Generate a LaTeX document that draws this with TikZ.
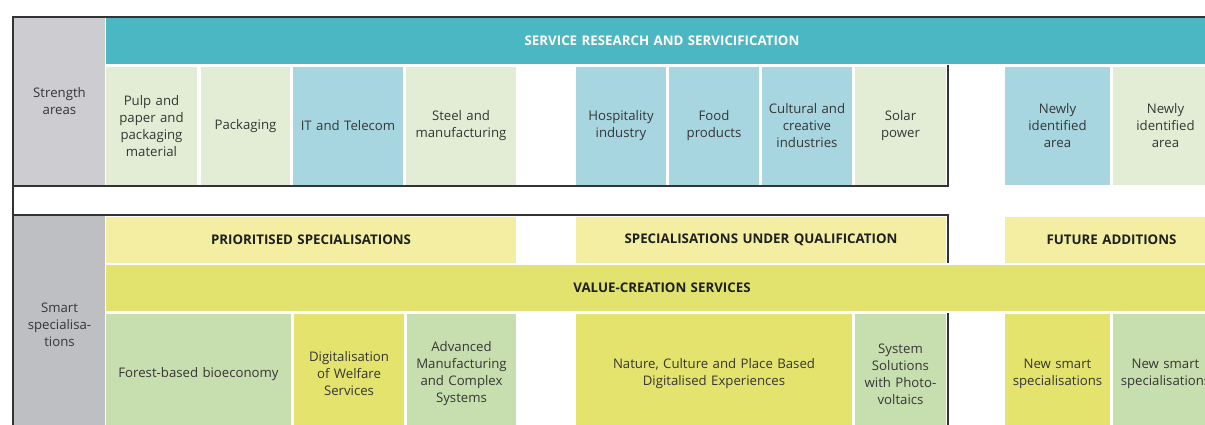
\documentclass[tikz,border=0pt]{standalone}
\usepackage{fontspec}
\setmainfont{Open Sans}
\definecolor{grayA}{HTML}{CDCDD1}
\definecolor{grayB}{HTML}{BEBFC3}
\definecolor{teal}{HTML}{4AB7C3}
\definecolor{lgreen}{HTML}{E3EDD5}
\definecolor{lblue}{HTML}{A7D6E0}
\definecolor{hyellow}{HTML}{F3EEA2}
\definecolor{vband}{HTML}{E2E36F}
\definecolor{bgreen}{HTML}{C7DFAE}
\definecolor{byellow}{HTML}{E3E36D}
\definecolor{txt}{HTML}{363636}
\definecolor{frame}{HTML}{333333}
\newcommand\cellnode[7]{%
  \pgfmathsetmacro\cw{#4-#2}\pgfmathsetmacro\ch{#5-#3}\pgfmathsetmacro\tw{#4-#2-6}%
  \node[cellbase,#6,minimum width=\cw pt,minimum height=\ch pt,text width=\tw pt] (#1) at ({(#2+#4)/2},{(#3+#5)/2}) {#7};}
\tikzset{
  cellbase/.style={rectangle,draw=none,inner sep=0pt,align=center,text=txt,
    font=\fontsize{13.2}{17}\selectfont},
  hdr/.style={font=\fontsize{13.3}{17}\selectfont\bfseries,text=black!88},
  framel/.style={draw=frame,line width=2pt}
}
\begin{document}
\begin{tikzpicture}[x=1pt,y=-1pt]
\useasboundingbox (0,0) rectangle (1205,424);
\clip (0,0) rectangle (1205,424);
\fill[white] (0,0) rectangle (1205,424);
% strength areas
\cellnode{g1}{14}{18}{105}{185}{fill=grayA}{Strength\\areas}
\cellnode{srs}{106}{18}{1218}{64}{fill=teal,hdr,text=white}{SERVICE RESEARCH AND SERVICIFICATION}
\cellnode{s1}{106}{67}{197}{185}{fill=lgreen}{Pulp and\\paper and\\packaging\\material}
\cellnode{s2}{201}{67}{290}{185}{fill=lgreen}{Packaging}
\cellnode{s3}{293}{67}{403}{185}{fill=lblue}{IT and Telecom}
\cellnode{s4}{406}{67}{516}{185}{fill=lgreen}{Steel and\\manufacturing}
\cellnode{s5}{576}{67}{666}{185}{fill=lblue}{Hospitality\\industry}
\cellnode{s6}{669}{67}{759}{185}{fill=lblue}{Food\\products}
\cellnode{s7}{762}{67}{852}{185}{fill=lblue}{Cultural and\\creative\\industries}
\cellnode{s8}{855}{67}{946}{185}{fill=lgreen}{Solar\\power}
\cellnode{s9}{1005}{67}{1110}{185}{fill=lblue}{Newly\\identified\\area}
\cellnode{s10}{1113}{67}{1218}{185}{fill=lgreen}{Newly\\identified\\area}
% smart specialisations
\cellnode{g2}{14}{216}{105}{434}{fill=grayB}{Smart\\specialisa-\\tions}
\cellnode{h1}{106}{217}{516}{263}{fill=hyellow,hdr}{PRIORITISED SPECIALISATIONS}
\cellnode{h2}{576}{217}{946}{263}{fill=hyellow,hdr}{SPECIALISATIONS UNDER QUALIFICATION}
\cellnode{h3}{1005}{217}{1218}{263}{fill=hyellow,hdr}{FUTURE ADDITIONS}
\cellnode{vc}{106}{265}{1218}{311}{fill=vband,hdr}{VALUE-CREATION SERVICES}
\cellnode{b1}{106}{314}{291}{434}{fill=bgreen}{Forest-based bioeconomy}
\cellnode{b2}{294}{314}{404}{434}{fill=byellow}{Digitalisation\\of Welfare\\Services}
\cellnode{b3}{407}{314}{516}{434}{fill=bgreen}{Advanced\\Manufacturing\\and Complex\\Systems}
\cellnode{b4}{576}{314}{852}{434}{fill=byellow}{Nature, Culture and Place Based\\Digitalised Experiences}
\cellnode{b5}{855}{314}{946}{434}{fill=bgreen}{System\\Solutions\\with Photo-\\voltaics}
\cellnode{b6}{1005}{314}{1110}{434}{fill=byellow}{New smart\\specialisations}
\cellnode{b7}{1113}{314}{1218}{434}{fill=bgreen}{New smart\\specialisations}
% frame lines
\draw[framel] (1210,17) -- (13,17) -- (13,186) -- (948,186) -- (948,65);
\draw[framel] (13,186) -- (13,430);
\draw[framel] (13,215) -- (948,215) -- (948,263);
\draw[framel] (948,313) -- (948,430);
\end{tikzpicture}
\end{document}
